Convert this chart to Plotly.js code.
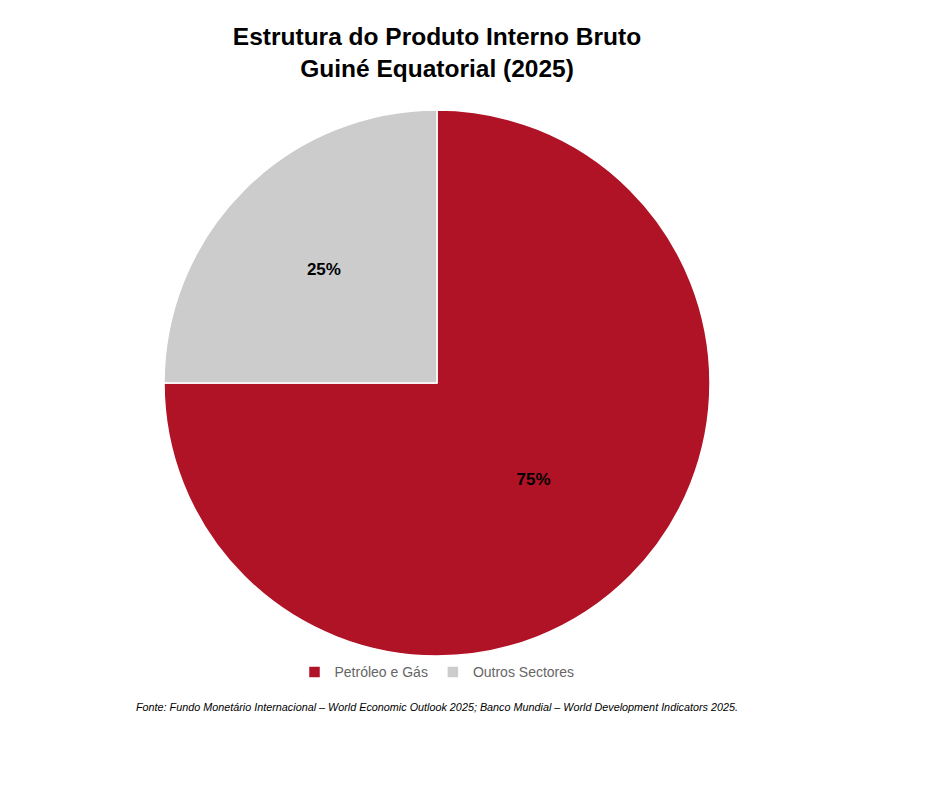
<!DOCTYPE html>
<html>
<head>
<meta charset="utf-8">
<script src="https://cdn.plot.ly/plotly-3.0.1.min.js"></script>
<style>html,body{margin:0;padding:0;background:#fff;}#chart{width:936px;height:799px;}</style>
</head>
<body>
<div id="chart"></div>
<script>
const labels = ["Petróleo e Gás", "Outros Sectores"];
const values = [75, 25];
const colors = ["#B01226", "#CCCCCC"];

const trace = {
  type: "pie",
  labels: labels,
  values: values,
  sort: false,
  direction: "clockwise",
  rotation: 0,
  marker: {colors: colors, line: {color: "#FFFFFF", width: 1.5}},
  textinfo: "percent",
  texttemplate: "%{percent:.0%}",
  textposition: "inside",
  insidetextorientation: "horizontal",
  textfont: {family: "Liberation Sans, Arial, sans-serif", size: 17, color: "#000000", weight: "bold"},
  hoverinfo: "label+percent"
};

const layout = {
  width: 936, height: 799,
  paper_bgcolor: "#FFFFFF", plot_bgcolor: "#FFFFFF",
  margin: {l: 164, r: 226, t: 110, b: 143},
  title: {
    text: "<b>Estrutura do Produto Interno Bruto<br>Guiné Equatorial (2025)</b>",
    font: {family: "Liberation Sans, Arial, sans-serif", size: 24.5, color: "#000000"},
    xref: "paper", x: 0.5, xanchor: "center",
    yref: "container", y: 0.944, yanchor: "middle"
  },
  showlegend: true,
  legend: {
    orientation: "h",
    x: 0.5, xanchor: "center",
    y: -0.03, yanchor: "middle",
    font: {family: "Liberation Sans, Arial, sans-serif", size: 14, color: "#666666"},
    traceorder: "normal"
  },
  annotations: [{
    text: "<i>Fonte: Fundo Monetário Internacional – World Economic Outlook 2025; Banco Mundial – World Development Indicators 2025.</i>",
    xref: "paper", yref: "paper",
    x: 0.5, xanchor: "center",
    y: -0.093, yanchor: "middle",
    showarrow: false,
    font: {family: "Liberation Sans, Arial, sans-serif", size: 10.8, color: "#000000"}
  }]
};

Plotly.newPlot("chart", [trace], layout, {displayModeBar: false, responsive: false});
</script>
</body>
</html>
